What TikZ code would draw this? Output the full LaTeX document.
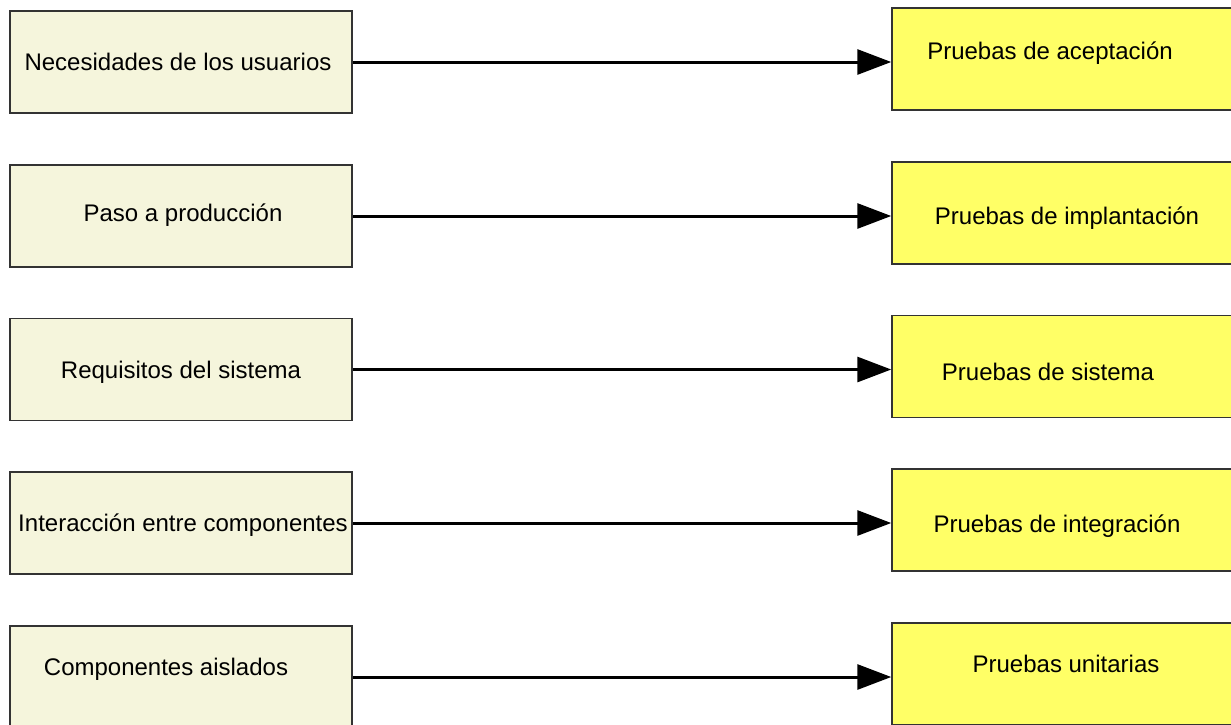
\documentclass[tikz,border=0pt]{standalone}
\usepackage{fontspec}
\setmainfont{Liberation Sans}
\usetikzlibrary{arrows.meta}
\definecolor{beige}{RGB}{245,245,220}
\definecolor{amarillo}{RGB}{255,255,102}
\definecolor{borde}{RGB}{51,51,51}
\tikzset{>={Triangle[width=12.5pt,length=17pt]}}

\begin{document}
\begin{tikzpicture}[x=0.5pt, y=-0.5pt,
    leftbox/.style={rectangle, draw=borde, fill=beige, line width=0.75pt, minimum width=171pt, minimum height=51pt, inner sep=0pt},
    rightbox/.style={rectangle, draw=borde, fill=amarillo, line width=0.75pt, minimum width=171pt, minimum height=51pt, inner sep=0pt},
    txt/.style={font=\fontsize{12}{14}\selectfont, text=black, inner sep=0pt},
    arrow/.style={->, line width=1.5pt} ]

    \useasboundingbox (0,0) rectangle (1231,724);
    \clip (0,0) rectangle (1231,724);

    %Nodes
    \node[leftbox, label={[txt, xshift=-1.5pt]center:Necesidades de los usuarios}] (usuarios) at (181,62) {};
    \node[leftbox, label={[txt, xshift=1pt, yshift=0.5pt]center:Paso a producción}] (produccion) at (181,216) {};
    \node[leftbox, label={[txt, yshift=-1.25pt]center:Requisitos del sistema}] (requisitos) at (181,369.5) {};
    \node[leftbox, label={[txt, xshift=1pt, yshift=-1pt]center:Interacción entre componentes}] (interaccion) at (181,523) {};
    \node[leftbox, label={[txt, xshift=-7.5pt, yshift=4pt]center:Componentes aislados}] (aislados) at (181,677) {};

    \node[rightbox, label={[txt, xshift=-6.5pt, yshift=3pt]center:Pruebas de aceptación}] (aceptacion) at (1063,59) {};
    \node[rightbox, label={[txt, xshift=2pt, yshift=-2.5pt]center:Pruebas de implantación}] (implantacion) at (1063,213) {};
    \node[rightbox, label={[txt, xshift=-7.5pt, yshift=-2.75pt]center:Pruebas de sistema}] (sistema) at (1063,366.5) {};
    \node[rightbox, label={[txt, xshift=-3pt, yshift=-3pt]center:Pruebas de integración}] (integracion) at (1063,520) {};
    \node[rightbox, label={[txt, xshift=1.5pt, yshift=5pt]center:Pruebas unitarias}] (unitarias) at (1063,674) {};

    %Lines
    \draw[arrow] (usuarios.east) -- (usuarios.east -| aceptacion.west);
    \draw[arrow] (produccion.east) -- (produccion.east -| implantacion.west);
    \draw[arrow] (requisitos.east) -- (requisitos.east -| sistema.west);
    \draw[arrow] (interaccion.east) -- (interaccion.east -| integracion.west);
    \draw[arrow] (aislados.east) -- (aislados.east -| unitarias.west);
\end{tikzpicture}
\end{document}
